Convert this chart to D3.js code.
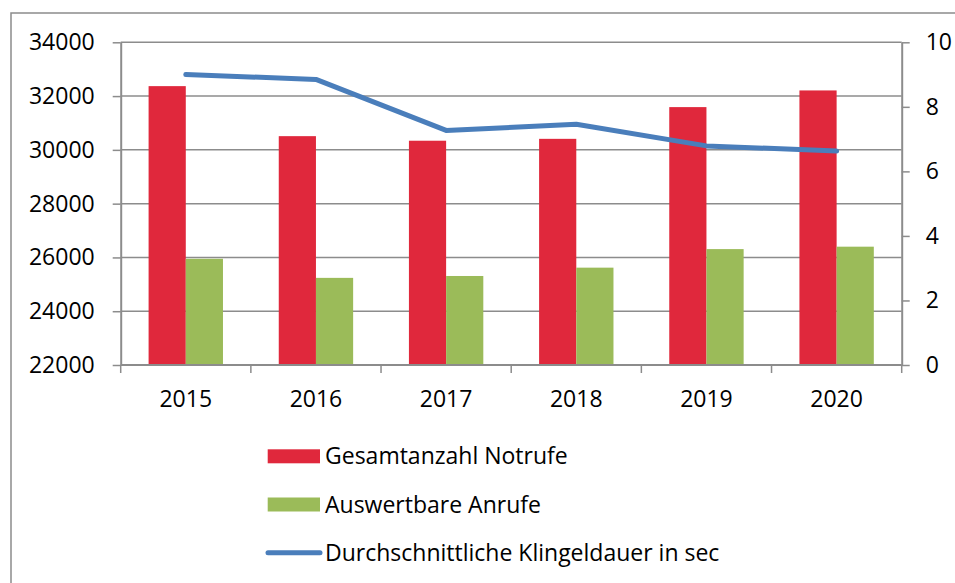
<!DOCTYPE html>
<html>
<head>
<meta charset="utf-8">
<script src="https://cdn.jsdelivr.net/npm/d3@7"></script>
<style>
  html, body { margin: 0; padding: 0; background: #fff; }
  svg { display: block; }
  text { font-family: "Open Sans", "Liberation Sans", sans-serif; fill: #000; }
</style>
</head>
<body>
<svg id="chart" width="955" height="583"></svg>
<script>
// Jahre und Werte
const years = ["2015", "2016", "2017", "2018", "2019", "2020"];
const gesamtNotrufe = [32370, 30510, 30340, 30410, 31590, 32210];
const auswertbareAnrufe = [25950, 25240, 25310, 25620, 26310, 26400];
const klingeldauer = [9.0, 8.85, 7.27, 7.46, 6.79, 6.63];

const leftTicks = [22000, 24000, 26000, 28000, 30000, 32000, 34000];
const rightTicks = [0, 2, 4, 6, 8, 10];

const seriesNames = ["Gesamtanzahl Notrufe", "Auswertbare Anrufe", "Durchschnittliche Klingeldauer in sec"];
const colors = { red: "#e0283c", green: "#9bbb59", blue: "#4a7ebb", grid: "#8c8c8c" };

const svg = d3.select("#chart");

// Plotbereich
const plot = { left: 120.7, right: 901.7, top: 42.3, bottom: 365 };
const fontSize = "23px";

const x = d3.scaleBand().domain(years).range([plot.left, plot.right]).paddingInner(0).paddingOuter(0);
const xSub = d3.scaleBand().domain(["g", "a"]).range([0, x.bandwidth()]).paddingInner(0).paddingOuter(0.75);
const yLeft = d3.scaleLinear().domain([22000, 34000]).range([plot.bottom, plot.top]);
const yRight = d3.scaleLinear().domain([0, 10]).range([plot.bottom, plot.top]);

// Diagrammrahmen
svg.append("rect")
  .attr("x", 11).attr("y", 13).attr("width", 960).attr("height", 600)
  .attr("fill", "none").attr("stroke", colors.grid).attr("stroke-width", 1.5);

// Gitterlinien
svg.append("g").selectAll("line")
  .data(leftTicks.slice(1))
  .join("line")
  .attr("x1", plot.left).attr("x2", plot.right)
  .attr("y1", d => yLeft(d)).attr("y2", d => yLeft(d))
  .attr("stroke", colors.grid).attr("stroke-width", 1.5);

// Balken
const groups = svg.append("g").selectAll("g")
  .data(years)
  .join("g")
  .attr("transform", d => `translate(${x(d)},0)`);

groups.append("rect")
  .attr("x", xSub("g"))
  .attr("width", xSub.bandwidth())
  .attr("y", (d, i) => yLeft(gesamtNotrufe[i]))
  .attr("height", (d, i) => yLeft(22000) - yLeft(gesamtNotrufe[i]))
  .attr("fill", colors.red);

groups.append("rect")
  .attr("x", xSub("a"))
  .attr("width", xSub.bandwidth())
  .attr("y", (d, i) => yLeft(auswertbareAnrufe[i]))
  .attr("height", (d, i) => yLeft(22000) - yLeft(auswertbareAnrufe[i]))
  .attr("fill", colors.green);

// Achsen
function styleAxis(g) {
  g.select(".domain").attr("stroke", colors.grid).attr("stroke-width", 2);
  g.selectAll(".tick line").attr("stroke", colors.grid).attr("stroke-width", 1.5);
  g.selectAll(".tick text").style("font-size", fontSize).attr("fill", "#000");
}

svg.append("g")
  .attr("transform", `translate(${plot.left},0)`)
  .call(d3.axisLeft(yLeft).tickValues(leftTicks).tickFormat(d3.format("d")).tickSize(8).tickSizeOuter(0).tickPadding(18))
  .call(styleAxis);

svg.append("g")
  .attr("transform", `translate(${plot.right},0)`)
  .call(d3.axisRight(yRight).tickValues(rightTicks).tickSize(8).tickSizeOuter(0).tickPadding(16))
  .call(styleAxis);

// X-Achse mit Trennstrichen an den Kategoriegrenzen
const xAxis = svg.append("g").attr("transform", `translate(0,${plot.bottom})`);
xAxis.append("line")
  .attr("x1", plot.left).attr("x2", plot.right)
  .attr("stroke", colors.grid).attr("stroke-width", 2);
xAxis.selectAll("line.sep")
  .data(years.concat(["end"]))
  .join("line").attr("class", "sep")
  .attr("x1", (d, i) => i < years.length ? x(d) : plot.right)
  .attr("x2", (d, i) => i < years.length ? x(d) : plot.right)
  .attr("y1", 0).attr("y2", 8)
  .attr("stroke", colors.grid).attr("stroke-width", 1.5);
xAxis.selectAll("text")
  .data(years)
  .join("text")
  .attr("x", d => x(d) + x.bandwidth() / 2)
  .attr("y", 42)
  .attr("text-anchor", "middle")
  .style("font-size", fontSize)
  .text(d => d);

// Linie Klingeldauer
const line = d3.line()
  .x((d, i) => x(years[i]) + x.bandwidth() / 2)
  .y(d => yRight(d));

svg.append("path")
  .datum(klingeldauer)
  .attr("d", line)
  .attr("fill", "none")
  .attr("stroke", colors.blue)
  .attr("stroke-width", 5)
  .attr("stroke-linecap", "round")
  .attr("stroke-linejoin", "round");

// Legende
const legend = svg.append("g");
const legendRows = [
  { name: seriesNames[0], type: "rect", color: colors.red, y: 456.3 },
  { name: seriesNames[1], type: "rect", color: colors.green, y: 504.5 },
  { name: seriesNames[2], type: "line", color: colors.blue, y: 552.7 }
];
legendRows.forEach(r => {
  if (r.type === "rect") {
    legend.append("rect")
      .attr("x", 267.7).attr("y", r.y - 7).attr("width", 52.3).attr("height", 14)
      .attr("fill", r.color);
  } else {
    legend.append("line")
      .attr("x1", 268).attr("x2", 320).attr("y1", r.y).attr("y2", r.y)
      .attr("stroke", r.color).attr("stroke-width", 5).attr("stroke-linecap", "round");
  }
  legend.append("text")
    .attr("x", 325).attr("y", r.y)
    .attr("dy", "0.35em")
    .style("font-size", fontSize)
    .text(r.name);
});
</script>
</body>
</html>
